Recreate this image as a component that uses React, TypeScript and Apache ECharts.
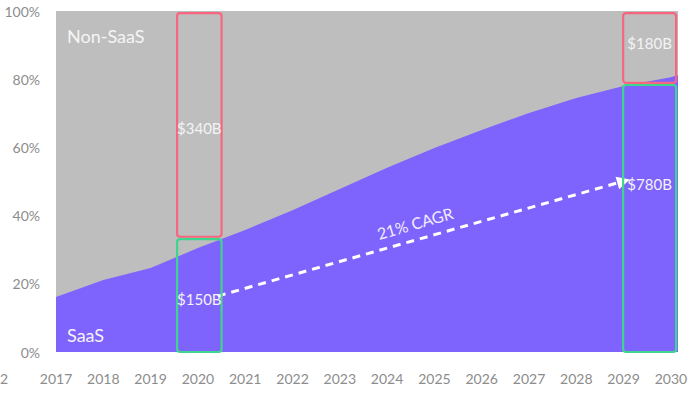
import React, { useEffect, useRef } from "react";
import * as echarts from "echarts";

const years = [2017, 2018, 2019, 2020, 2021, 2022, 2023, 2024, 2025, 2026, 2027, 2028, 2029, 2030, 2030.15];
const saasShare = [16.1, 21.1, 24.6, 30.5, 35.8, 41.6, 47.8, 54.0, 59.8, 65.1, 70.1, 74.5, 78.0, 80.6, 81.2];
// top of the Non-SaaS band (whole market = 100%)
const totalShare = [100, 100, 100, 100, 100, 100, 100, 100, 100, 100, 100, 100, 100, 100, 100];

// boxes: [xStart, xEnd, yBottom, yTop, kind]
const boxes: [number, number, number, number, string][] = [
  [2019.56, 2020.5, 0, 33.1, "saas"],
  [2019.56, 2020.5, 33.8, 99.4, "non"],
  [2028.99, 2030.11, 0, 78.3, "saas"],
  [2028.99, 2030.11, 78.9, 99.4, "non"],
];

// labels: [x, y, text]
const boxLabels: [number, number, string][] = [
  [2020.03, 65.6, "$340B"],
  [2020.03, 15.5, "$150B"],
  [2029.55, 90.5, "$180B"],
  [2029.55, 49.4, "$780B"],
];

const arrowStart: [number, number] = [2020.42, 16.4];
const arrowEnd: [number, number] = [2029.0, 50.1];

const PURPLE = "#7f63fd";
const GRAY = "#bebebe";
const RED = "#f7667e";
const GREEN = "#3ed68f";
const FONT = "Lato, 'Open Sans', sans-serif";

export default function App() {
  const ref = useRef<HTMLDivElement>(null);
  useEffect(() => {
    if (!ref.current) return;
    const chart = echarts.init(ref.current, undefined, { renderer: "svg" });
    chart.setOption({
      animation: false,
      textStyle: { fontFamily: FONT },
      grid: { left: 56, right: 14, top: 11, bottom: 47 },
      xAxis: {
        type: "value",
        min: 2017,
        max: 2030.15,
        interval: 1,
        axisLine: { show: false },
        axisTick: { show: false },
        splitLine: { show: false },
        axisLabel: {
          color: "#8c8c8c",
          fontSize: 14,
          margin: 19,
          fontFamily: FONT,
          formatter: (v: number) => (Math.abs(v - Math.round(v)) < 1e-6 ? String(Math.round(v)) : ""),
        },
      },
      yAxis: {
        type: "value",
        min: 0,
        max: 100,
        interval: 20,
        axisLine: { show: false },
        axisTick: { show: false },
        splitLine: { show: false },
        axisLabel: { color: "#8c8c8c", fontSize: 14, margin: 16, fontFamily: FONT, formatter: (v: number) => v + "%" },
      },
      series: [
        {
          name: "Non-SaaS",
          type: "line",
          z: 1,
          data: years.map((y, i) => [y, totalShare[i]]),
          symbol: "none",
          lineStyle: { width: 0 },
          areaStyle: { color: GRAY, opacity: 1 },
        },
        {
          name: "SaaS",
          type: "line",
          z: 2,
          data: years.map((y, i) => [y, saasShare[i]]),
          symbol: "none",
          lineStyle: { width: 0 },
          areaStyle: { color: PURPLE, opacity: 1 },
          markLine: {
            silent: true,
            symbol: ["none", "triangle"],
            symbolSize: [13, 13],
            label: { show: false },
            lineStyle: { color: "#ffffff", width: 3, type: [8, 6] },
            data: [[{ coord: arrowStart }, { coord: arrowEnd }]],
          },
        },
        {
          type: "custom",
          silent: true,
          data: boxes.map((b) => [b[0], b[1], b[2], b[3]]),
          encode: { x: [0, 1], y: [2, 3] },
          z: 5,
          renderItem: (params: any, api: any) => {
            const p0 = api.coord([api.value(0), api.value(3)]);
            const p1 = api.coord([api.value(1), api.value(2)]);
            const kind = boxes[params.dataIndex][4];
            return {
              type: "rect",
              shape: { x: p0[0], y: p0[1], width: p1[0] - p0[0], height: p1[1] - p0[1], r: 3 },
              style: { fill: "none", stroke: kind === "saas" ? GREEN : RED, lineWidth: 2.2 },
            };
          },
        },
        {
          type: "custom",
          silent: true,
          data: boxLabels.map((l) => [l[0], l[1]]),
          z: 6,
          renderItem: (params: any, api: any) => {
            const p = api.coord([api.value(0), api.value(1)]);
            return {
              type: "text",
              x: p[0],
              y: p[1],
              style: {
                text: boxLabels[params.dataIndex][2],
                fill: "#f4f4f4",
                fontSize: 15,
                fontFamily: FONT,
                align: "center",
                verticalAlign: "middle",
              },
            };
          },
        },
      ],
      graphic: [
        { type: "text", left: 67, top: 27, z: 10, style: { text: "Non-SaaS", fill: "#f5f5f5", fontSize: 18, fontFamily: FONT } },
        { type: "text", left: 67, top: 326, z: 10, style: { text: "SaaS", fill: "#f5f5f5", fontSize: 18, fontFamily: FONT } },
        {
          type: "text",
          x: 415,
          y: 223,
          z: 10,
          rotation: (16 * Math.PI) / 180,
          style: { text: "21% CAGR", fill: "#f0eeff", fontSize: 16, fontFamily: FONT, align: "center", verticalAlign: "middle" },
        },
        { type: "text", x: 0, y: 378, style: { text: "2", fill: "#8c8c8c", fontSize: 14, fontFamily: FONT, align: "left", verticalAlign: "middle" } },
      ],
    });
    return () => chart.dispose();
  }, []);
  return <div ref={ref} style={{ width: 692, height: 399, position: "absolute", left: 0, top: 0 }} />;
}
